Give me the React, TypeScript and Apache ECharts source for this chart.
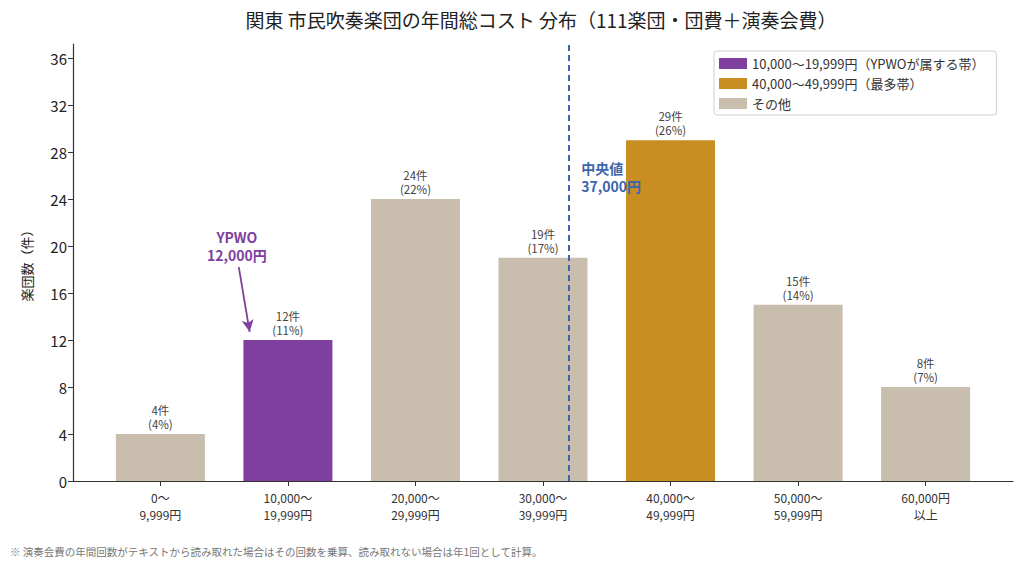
import React, { useEffect, useRef } from "react";
import * as echarts from "echarts";

// Cost bands (annual total cost per band, 10,000-yen steps)
const categories = [
  "0〜\n9,999円",
  "10,000〜\n19,999円",
  "20,000〜\n29,999円",
  "30,000〜\n39,999円",
  "40,000〜\n49,999円",
  "50,000〜\n59,999円",
  "60,000円\n以上",
];
const counts = [4, 12, 24, 19, 29, 15, 8];
const yTicks = [0, 4, 8, 12, 16, 20, 24, 28, 32, 36];

const ypwoBand = 1;
const modeBand = 4;
const medianYen = 37000;
const ypwoYen = 12000;

const seriesNames = [
  "10,000〜19,999円（YPWOが属する帯）",
  "40,000〜49,999円（最多帯）",
  "その他",
];
const colors = ["#7e3f9e", "#c98e22", "#c9beae"];

const FONT = "'Noto Sans CJK JP', 'Noto Sans', sans-serif";

export default function App() {
  const ref = useRef<HTMLDivElement>(null);

  useEffect(() => {
    if (!ref.current) return;
    const chart = echarts.init(ref.current, null, { renderer: "svg" });
    const total = counts.reduce((a, b) => a + b, 0);
    // band i is centred on i, so a yen amount maps to yen/10000 - 0.5
    const yenToX = (yen: number) => yen / 10000 - 0.5;

    const pick = (pred: (i: number) => boolean) =>
      counts.map((c, i) => (pred(i) ? [i, c] : null)).filter((d) => d !== null);

    const barLabel = {
      show: true,
      position: "top",
      distance: 3,
      color: "#444",
      fontSize: 11.5,
      lineHeight: 14,
      fontFamily: FONT,
      formatter: (p: any) =>
        `${p.value[1]}件\n(${Math.round((p.value[1] / total) * 100)}%)`,
    };

    const groups = [
      pick((i) => i === ypwoBand),
      pick((i) => i === modeBand),
      pick((i) => i !== ypwoBand && i !== modeBand),
    ];

    const series: any[] = groups.map((data, k) => ({
      name: seriesNames[k],
      type: "bar",
      data,
      barWidth: 89,
      barGap: "-100%",
      itemStyle: { color: colors[k] },
      label: barLabel,
    }));

    // median line and its label
    series[1].markLine = {
      silent: true,
      symbol: ["none", "none"],
      label: { show: false },
      lineStyle: { color: "#3a66ad", type: [6, 4], width: 2 },
      data: [{ xAxis: yenToX(medianYen) }],
    };
    series[1].markPoint = {
      silent: true,
      symbol: "circle",
      symbolSize: 0,
      data: [
        {
          coord: [yenToX(medianYen) + 0.1, 25.9],
          label: {
            show: true,
            position: "right",
            distance: 0,
            align: "left",
            formatter: "中央値\n37,000円",
            color: "#3a66ad",
            fontWeight: "bold",
            fontSize: 14,
            lineHeight: 18,
            fontFamily: FONT,
          },
        },
      ],
    };

    // YPWO annotation with arrow
    series[0].markLine = {
      silent: true,
      symbol: ["none", "arrow"],
      symbolSize: [9, 12],
      label: { show: false },
      lineStyle: { color: "#7e3f9e", type: "solid", width: 1.8 },
      data: [
        [
          { coord: [yenToX(ypwoYen) - 0.085, 18.2] },
          { coord: [yenToX(ypwoYen), 12.7] },
        ],
      ],
    };
    series[0].markPoint = {
      silent: true,
      symbol: "circle",
      symbolSize: 0,
      data: [
        {
          coord: [yenToX(ypwoYen) - 0.1, 20],
          label: {
            show: true,
            position: "inside",
            formatter: "YPWO\n12,000円",
            color: "#7e3f9e",
            fontWeight: "bold",
            fontSize: 14,
            lineHeight: 18,
            fontFamily: FONT,
          },
        },
      ],
    };

    chart.setOption({
      animation: false,
      backgroundColor: "#ffffff",
      textStyle: { fontFamily: FONT },
      title: {
        text: "関東 市民吹奏楽団の年間総コスト 分布（111楽団・団費＋演奏会費）",
        left: 536,
        textAlign: "center",
        top: 5,
        textStyle: {
          fontSize: 19,
          fontWeight: "normal",
          color: "#222",
          fontFamily: FONT,
        },
      },
      legend: {
        orient: "vertical",
        left: 714,
        top: 51,
        padding: [6, 12, 5, 5],
        itemGap: 7,
        itemWidth: 28,
        itemHeight: 11,
        icon: "rect",
        borderColor: "#d0d0d0",
        borderWidth: 1,
        borderRadius: 3,
        backgroundColor: "#ffffff",
        textStyle: { fontSize: 13, color: "#333", fontFamily: FONT },
        data: seriesNames,
      },
      grid: { left: 73, right: 11, top: 44, bottom: 92 },
      xAxis: {
        type: "value",
        min: -0.685,
        max: 6.685,
        splitLine: { show: false },
        axisLine: { onZero: false, lineStyle: { color: "#333", width: 1.2 } },
        axisTick: {
          show: true,
          length: 5,
          customValues: categories.map((_, i) => i),
          lineStyle: { color: "#333" },
        },
        axisLabel: {
          customValues: categories.map((_, i) => i),
          formatter: (v: number) => categories[Math.round(v)],
          color: "#333",
          fontSize: 12,
          lineHeight: 17,
          margin: 8,
          fontFamily: FONT,
        },
      },
      yAxis: {
        type: "value",
        min: 0,
        max: 37.2,
        name: "楽団数（件）",
        nameLocation: "middle",
        nameGap: 40,
        nameTextStyle: { fontSize: 13, color: "#222", fontFamily: FONT },
        splitLine: { show: false },
        axisLine: {
          show: true,
          onZero: false,
          lineStyle: { color: "#333", width: 1.2 },
        },
        axisTick: {
          show: true,
          length: 5,
          customValues: yTicks,
          lineStyle: { color: "#333" },
        },
        axisLabel: {
          customValues: yTicks,
          color: "#222",
          fontSize: 15,
          margin: 6,
          fontFamily: FONT,
        },
      },
      graphic: [
        {
          type: "text",
          left: 10,
          top: 546,
          style: {
            text: "※ 演奏会費の年間回数がテキストから読み取れた場合はその回数を乗算、読み取れない場合は年1回として計算。",
            fill: "#777",
            fontSize: 10.5,
            fontFamily: FONT,
          },
        },
      ],
      series,
    });

    return () => chart.dispose();
  }, []);

  return (
    <div
      ref={ref}
      style={{ position: "fixed", left: 0, top: 0, width: 1024, height: 573 }}
    />
  );
}
